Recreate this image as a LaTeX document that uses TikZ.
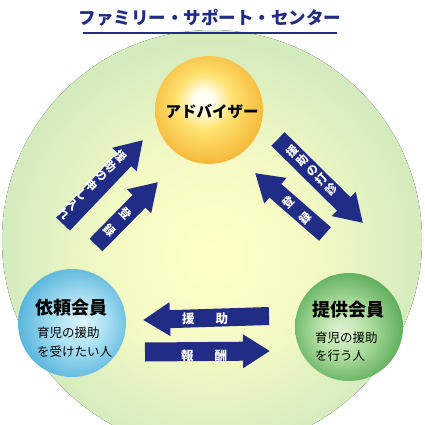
\documentclass[tikz,border=0pt]{standalone}
\usepackage{fontspec}
\setmainfont{Noto Sans CJK JP}
\usetikzlibrary{arrows.meta}

\definecolor{navy}{RGB}{32,44,134}
\definecolor{discin}{RGB}{255,255,200}
\definecolor{discmid}{RGB}{244,250,196}
\definecolor{discout}{RGB}{212,235,190}
\definecolor{advin}{RGB}{255,255,245}
\definecolor{advmid}{RGB}{255,226,112}
\definecolor{advout}{RGB}{244,180,52}
\definecolor{reqin}{RGB}{222,244,250}
\definecolor{reqmid}{RGB}{170,224,242}
\definecolor{reqout}{RGB}{80,176,218}
\definecolor{supin}{RGB}{226,244,214}
\definecolor{supmid}{RGB}{176,222,160}
\definecolor{supout}{RGB}{84,168,84}

\pgfdeclareradialshading{bgdisc}{\pgfpoint{0bp}{-2bp}}{color(0bp)=(discin); color(12bp)=(discmid); color(25bp)=(discout); color(50bp)=(discout)}
\pgfdeclareradialshading{advball}{\pgfpoint{-3bp}{5bp}}{color(0bp)=(advin); color(4bp)=(advin); color(13bp)=(advmid); color(29bp)=(advout); color(50bp)=(advout)}
\pgfdeclareradialshading{reqball}{\pgfpoint{5bp}{0bp}}{color(0bp)=(reqin); color(12bp)=(reqmid); color(29bp)=(reqout); color(50bp)=(reqout)}
\pgfdeclareradialshading{supball}{\pgfpoint{-4bp}{-2bp}}{color(0bp)=(supin); color(12bp)=(supmid); color(29bp)=(supout); color(50bp)=(supout)}

\begin{document}
\begin{tikzpicture}[x=1pt,y=-1pt,
    fatarrow/.style={navy, line width=#1, -{Triangle[width=32pt,length=27pt]}},
    fatarrow/.default=19pt,
    ball/.style={circle, minimum size=108pt, inner sep=0pt},
    arrowtext/.style={white, inner sep=0pt, align=center, font=\bfseries\fontsize{11.5}{13.5}\selectfont},
    membername/.style={anchor=west, inner sep=0pt, font=\bfseries\fontsize{18}{18}\selectfont},
    membernote/.style={anchor=west, inner sep=0pt, font=\fontsize{12.5}{12.5}\selectfont}]
    \useasboundingbox (0,0) rectangle (425,425);
    \begin{scope}
        \clip (0,0) rectangle (425,425);
        \fill[shading=bgdisc] (212,240) circle[radius=210pt];
    \end{scope}

    \node[navy, font=\bfseries\fontsize{17.5}{17.5}\selectfont] (title) at (210,18) {ファミリー・サポート・センター};
    \draw[navy, line width=2pt] (83,33) -- (337,33);

    \node[ball, shading=advball] (adviser) at (209,110) {};
    \node[font=\bfseries\fontsize{15.5}{15.5}\selectfont] (advname) at (212,112) {アドバイザー};
    \node[ball, shading=reqball] (requester) at (72,323) {};
    \node[ball, shading=supball] (supporter) at (349,327) {};

    \node[membername] (reqname) at (35,308) {依頼会員};
    \node[membernote] (reqnote1) at (37,333) {育児の援助};
    \node[membernote] (reqnote2) at (37,352) {を受けたい人};
    \node[membername] (supname) at (312,310) {提供会員};
    \node[membernote] (supnote1) at (315,338) {育児の援助};
    \node[membernote] (supnote2) at (315,356) {を行う人};

    \coordinate (applytail) at (63,224);
    \coordinate (applytip) at (143,140);
    \coordinate (regltail) at (96,245);
    \coordinate (regltip) at (158,182);
    \coordinate (asktail) at (278,139);
    \coordinate (asktip) at (363,223);
    \coordinate (regrtail) at (325,234);
    \coordinate (regrtip) at (255,173);
    \coordinate (helptail) at (269,316);
    \coordinate (helptip) at (143,320);
    \coordinate (paytail) at (145,352);
    \coordinate (paytip) at (270,351);

    \draw[fatarrow] (applytail) -- (applytip);
    \draw[fatarrow=18pt] (regltail) -- (regltip);
    \draw[fatarrow] (asktail) -- (asktip);
    \draw[fatarrow=18pt] (regrtail) -- (regrtip);
    \draw[fatarrow=18pt] (helptail) -- (helptip);
    \draw[fatarrow=19pt] (paytail) -- (paytip);

    \node[arrowtext, rotate=-45] (applytext) at (92,185) {援\\助\\の\\申\\し\\入\\れ};
    \node[arrowtext, rotate=-45, font=\bfseries\fontsize{11.5}{23}\selectfont] (regltext) at (118,222) {登\\録};
    \node[arrowtext, rotate=45] (asktext) at (312,170) {援\\助\\の\\打\\診};
    \node[arrowtext, rotate=45, font=\bfseries\fontsize{11.5}{23}\selectfont] (regrtext) at (297,210) {登\\録};
    \node[arrowtext, font=\bfseries\fontsize{12.5}{12.5}\selectfont] (helptext) at (205,319) {援\hspace{21pt}助};
    \node[arrowtext, font=\bfseries\fontsize{12.5}{12.5}\selectfont] (paytext) at (204,356) {報\hspace{21pt}酬};
\end{tikzpicture}
\end{document}
